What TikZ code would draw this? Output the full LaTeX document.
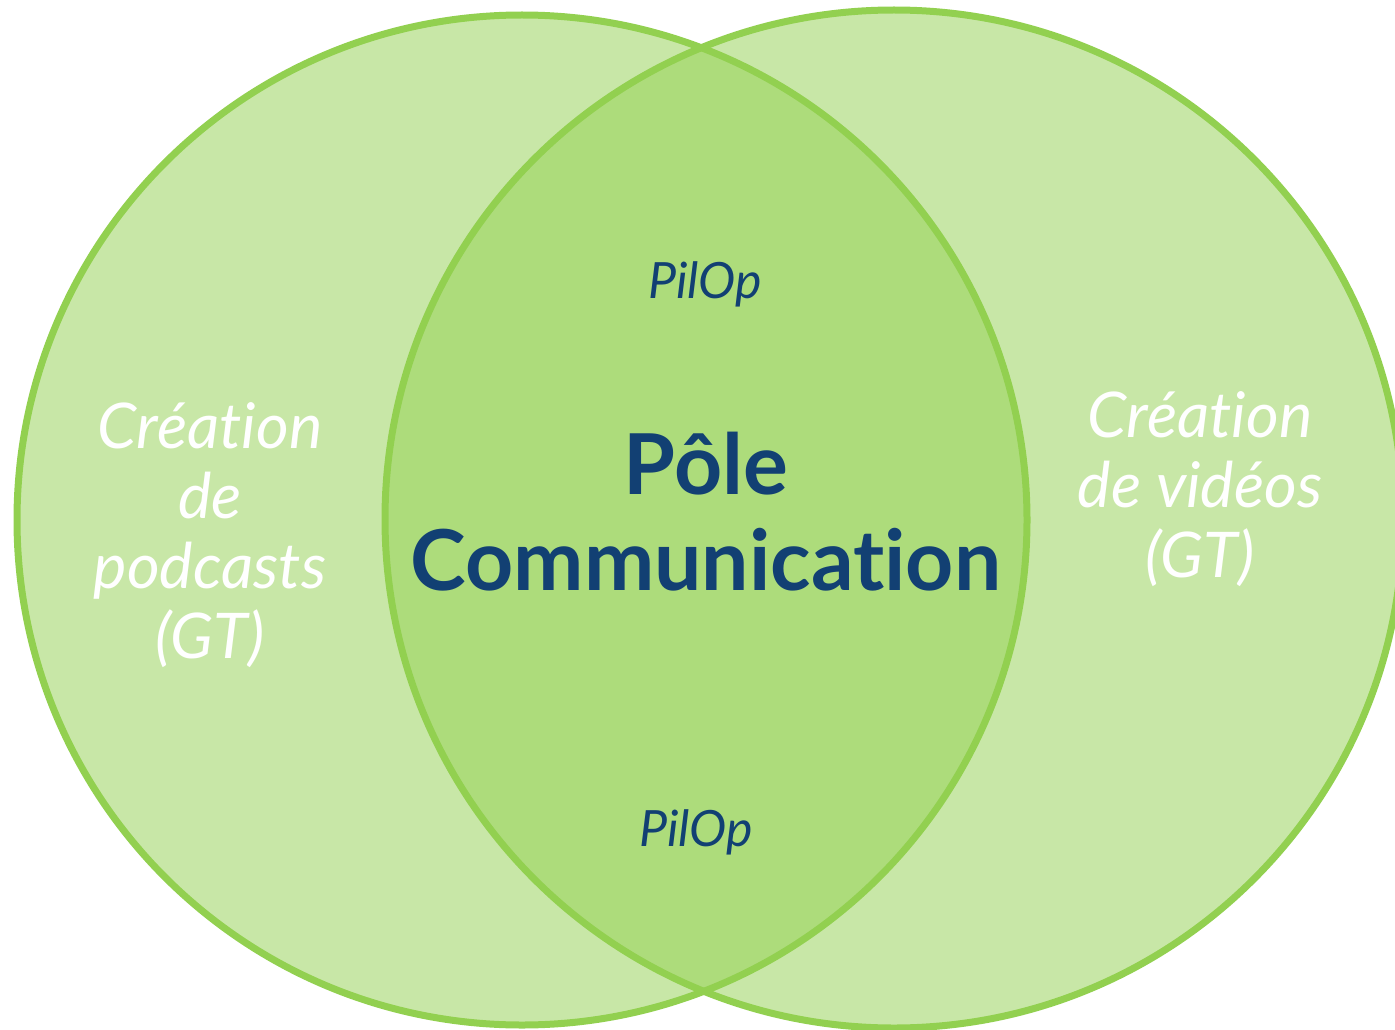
\documentclass[tikz,border=0pt]{standalone}
\usepackage{fontspec}
\newfontfamily\lato[Ligatures=NoCommon]{Lato}
\definecolor{vgreen}{HTML}{92D050}
\definecolor{vblue}{HTML}{124073}
\begin{document}
\begin{tikzpicture}[x=1pt,y=-1pt,
  sidetext/.style={text=white,align=center,font=\lato\itshape\fontsize{63}{70}\selectfont,anchor=base,inner sep=0pt},
  pilop/.style={text=vblue,font=\lato\itshape\fontsize{50}{55}\selectfont,anchor=base,inner sep=0pt},
  maintext/.style={text=vblue,align=center,font=\lato\bfseries\fontsize{84}{96}\selectfont,anchor=base,inner sep=0pt}]
\useasboundingbox (0,0) rectangle (1395,1030);
\fill[vgreen,fill opacity=0.5] (522,520) circle[radius=505];
\fill[vgreen,fill opacity=0.5] (894,519) circle[radius=509];
\draw[vgreen,line width=7pt] (522,520) circle[radius=505];
\draw[vgreen,line width=7pt] (894,519) circle[radius=509];
\node[sidetext] (left) at (210,658) {Création\\de\\podcasts\\(GT)};
\node[sidetext] (right) at (1200,577) {Création\\de vidéos\\(GT)};
\node[maintext] (main) at (706,590) {Pôle\\Communication};
\node[pilop] (top) at (705,298) {PilOp};
\node[pilop] (bottom) at (696,846) {PilOp};
\end{tikzpicture}
\end{document}
